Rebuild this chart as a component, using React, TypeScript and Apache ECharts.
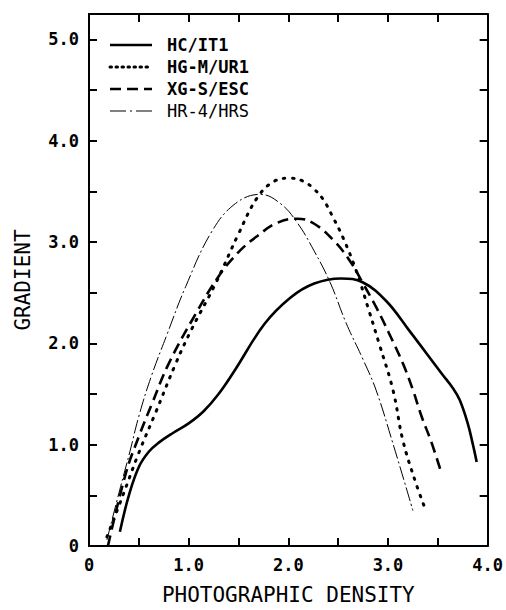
import React, { useEffect, useRef } from "react";
import * as echarts from "echarts";

const seriesNames = ["HC/IT1", "HG-M/UR1", "XG-S/ESC", "HR-4/HRS"];

const hcX = [0.31, 0.40, 0.50, 0.60, 0.70, 0.85, 1.00, 1.15, 1.30, 1.46, 1.76, 2.02, 2.26, 2.53, 2.75, 2.98, 3.21, 3.54, 3.65, 3.72, 3.80, 3.85, 3.89];
const hcY = [0.14, 0.50, 0.78, 0.93, 1.02, 1.12, 1.21, 1.33, 1.50, 1.73, 2.19, 2.45, 2.59, 2.64, 2.60, 2.42, 2.13, 1.70, 1.56, 1.44, 1.21, 1.01, 0.83];

const hgX = [0.18, 0.34, 0.50, 0.67, 0.87, 1.03, 1.27, 1.50, 1.69, 1.86, 2.02, 2.15, 2.25, 2.35, 2.45, 2.55, 2.68, 2.81, 2.91, 3.05, 3.15, 3.28, 3.38];
const hgY = [0.09, 0.50, 0.92, 1.32, 1.80, 2.14, 2.59, 3.08, 3.44, 3.60, 3.63, 3.60, 3.53, 3.42, 3.24, 3.04, 2.72, 2.32, 2.00, 1.54, 1.04, 0.62, 0.35];

const xgX = [0.19, 0.37, 0.50, 0.63, 0.80, 1.07, 1.30, 1.50, 1.69, 1.89, 2.09, 2.26, 2.46, 2.62, 2.75, 2.88, 3.01, 3.15, 3.25, 3.34, 3.43, 3.53];
const xgY = [0.0, 0.72, 1.08, 1.40, 1.80, 2.29, 2.66, 2.90, 3.06, 3.19, 3.23, 3.18, 3.01, 2.81, 2.59, 2.36, 2.10, 1.80, 1.54, 1.27, 1.04, 0.74];

const hrX = [0.18, 0.31, 0.41, 0.50, 0.62, 0.78, 0.97, 1.23, 1.47, 1.72, 1.92, 2.09, 2.26, 2.42, 2.58, 2.75, 2.88, 3.05, 3.25];
const hrY = [0.06, 0.56, 0.93, 1.28, 1.66, 2.08, 2.56, 3.10, 3.38, 3.47, 3.38, 3.19, 2.91, 2.60, 2.20, 1.84, 1.54, 1.01, 0.35];

const xTickLabels = ["0", "1.0", "2.0", "3.0", "4.0"];
const yTickLabels = ["0", "1.0", "2.0", "3.0", "4.0", "5.0"];

const MONO = "DejaVu Sans Mono";

const lineStyles: any[] = [
  { color: "#000", width: 2.6, type: "solid" },
  { color: "#000", width: 3, type: [1.5, 7.5], cap: "round" },
  { color: "#000", width: 2.6, type: [11, 6] },
  { color: "#000", width: 1, type: [14, 3, 2, 3] },
];

function zip(xs: number[], ys: number[]) {
  return xs.map((x, i) => [x, ys[i]]);
}

export default function App() {
  const ref = useRef<HTMLDivElement>(null);
  useEffect(() => {
    if (!ref.current) return;
    const chart = echarts.init(ref.current, undefined, { renderer: "svg" });
    const datasets = [zip(hcX, hcY), zip(hgX, hgY), zip(xgX, xgY), zip(hrX, hrY)];
    const fmtX = (v: number) => {
      const i = Math.round(v);
      return Math.abs(v - i) < 1e-6 && i >= 0 && i < xTickLabels.length ? xTickLabels[i] : "";
    };
    const fmtY = (v: number) => {
      const i = Math.round(v);
      return Math.abs(v - i) < 1e-6 && i >= 0 && i < yTickLabels.length ? yTickLabels[i] : "";
    };
    const legendX0 = 110;
    const legendY0 = 45;
    const legendGap = 22;
    const legendGraphics: any[] = [];
    seriesNames.forEach((n, i) => {
      const y = legendY0 + i * legendGap;
      const ls = lineStyles[i];
      legendGraphics.push({
        type: "line",
        shape: { x1: legendX0, y1: y, x2: legendX0 + 42, y2: y },
        style: {
          stroke: "#000",
          lineWidth: ls.width,
          lineDash: Array.isArray(ls.type) ? (i === 1 ? [1.5, 4.5] : i === 3 ? [16, 4, 2, 4] : ls.type) : null,
          lineCap: ls.cap || "butt",
        },
      });
      legendGraphics.push({
        type: "text",
        x: 167,
        y: y,
        style: {
          text: n,
          fill: "#000",
          font: `${i < 3 ? "bold " : ""}17px "${MONO}"`,
          verticalAlign: "middle",
          align: "left",
        },
      });
    });

    const axisCommon = {
      type: "value",
      min: 0,
      interval: 0.5,
      splitLine: { show: false },
      axisLine: { show: true, onZero: false, lineStyle: { color: "#000", width: 2 } },
      axisTick: { show: true, inside: true, length: 8, lineStyle: { color: "#000", width: 2 } },
    };

    chart.setOption({
      animation: false,
      backgroundColor: "#fff",
      grid: { left: 89, right: 14, top: 14, bottom: 64, show: false },
      xAxis: [
        {
          ...axisCommon,
          max: 4,
          position: "bottom",
          name: "PHOTOGRAPHIC DENSITY",
          nameLocation: "middle",
          nameGap: 38,
          nameTextStyle: { fontFamily: MONO, fontSize: 21, color: "#000", verticalAlign: "top" },
          axisLabel: { formatter: fmtX, fontFamily: MONO, fontWeight: "bold", fontSize: 17, color: "#000", margin: 10 },
        },
        {
          ...axisCommon,
          max: 4,
          position: "top",
          axisLabel: { show: false },
        },
      ],
      yAxis: [
        {
          ...axisCommon,
          max: 5.25,
          position: "left",
          name: "GRADIENT",
          nameLocation: "middle",
          nameGap: 56,
          nameTextStyle: { fontFamily: MONO, fontSize: 21, color: "#000" },
          axisLabel: { formatter: fmtY, fontFamily: MONO, fontWeight: "bold", fontSize: 17, color: "#000", margin: 10 },
        },
        {
          ...axisCommon,
          max: 5.25,
          position: "right",
          axisLabel: { show: false },
        },
      ],
      series: seriesNames.map((n, i) => ({
        name: n,
        type: "line",
        data: datasets[i],
        smooth: 0.4,
        showSymbol: false,
        symbol: "none",
        lineStyle: lineStyles[i],
        z: 3,
      })),
      graphic: legendGraphics,
    });
    return () => chart.dispose();
  }, []);
  return (
    <div
      ref={ref}
      style={{ position: "absolute", left: 0, top: 0, width: 506, height: 610 }}
    />
  );
}
